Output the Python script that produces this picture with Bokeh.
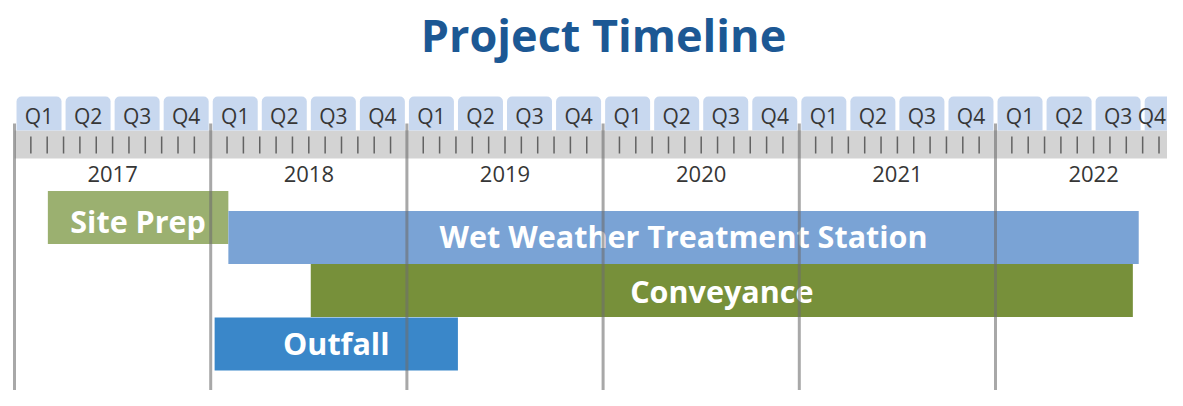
from bokeh.plotting import figure
from bokeh.models import Range1d, ColumnDataSource
from bokeh.core.properties import value
from bokeh.embed import file_html
from bokeh.resources import INLINE

# ---------------- data ----------------
title_text = "Project Timeline"
years = [2017, 2018, 2019, 2020, 2021, 2022]
quarters = ["Q1", "Q2", "Q3", "Q4"]
tasks = ["Site Prep", "Wet Weather Treatment Station", "Conveyance", "Outfall"]
task_start = [2017.17, 2018.09, 2018.51, 2018.02]   # decimal years
task_end = [2018.09, 2022.73, 2022.70, 2019.26]

# ---------------- style / layout ----------------
task_colors = ["#9bb070", "#7aa3d5", "#77903a", "#3a87c9"]
row_y = [217, 237, 290, 343.5]          # bar centre (px from top)
label_y = [220, 235.5, 290.5, 342]       # text anchor (px from top)
bar_h = 53
FONT = value("Open Sans")
TXT = "#363636"

W, H = 1167, 390
px_per_year = 196.2
x0 = 2017 - 14 / px_per_year
x1 = x0 + W / px_per_year

p = figure(width=W, height=H, output_backend="svg", toolbar_location=None,
           x_range=Range1d(x0, x1), y_range=Range1d(H, 0),
           min_border=0, outline_line_color=None, background_fill_color="white")
p.axis.visible = False
p.grid.visible = False

# title
p.text(x=[x0 + 603 / px_per_year], y=[34], text=[title_text],
       text_font=FONT, text_font_style="bold", text_font_size="45px",
       text_color="#1c5894", text_align="center", text_baseline="alphabetic")

# grey month strip
p.quad(left=[years[0]], right=[x1], top=[130], bottom=[158],
       fill_color="#d3d3d3", line_color=None)

# quarter tabs
q_x, q_t = [], []
for y in years:
    for i, q in enumerate(quarters):
        q_x.append(y + (i + 0.5) / 4)
        q_t.append(q)
half = 22.5 / px_per_year
tabs = ColumnDataSource(dict(x=q_x, t=q_t,
                             l=[v - half for v in q_x], r=[v + half for v in q_x]))
p.quad(left="l", right="r", top=96, bottom=130, source=tabs,
       fill_color="#c8d8ef", line_color=None, border_radius=(5, 5, 0, 0))
# labels: all but the last centred on their tab; last one kept inside the frame
p.text(x=q_x[:-1], y=[115] * (len(q_x) - 1), text=q_t[:-1], text_font=FONT,
       text_font_size="21px", text_color=TXT, text_align="center",
       text_baseline="alphabetic")
p.text(x=[x1 - 1.5 / px_per_year], y=[115], text=[q_t[-1]], text_font=FONT,
       text_font_size="21px", text_color=TXT, text_align="right",
       text_baseline="alphabetic")

# month ticks
mx = [y + m / 12 for y in years for m in range(1, 12)]
p.segment(x0=mx, x1=mx, y0=[136] * len(mx), y1=[153] * len(mx),
          line_color="#626262", line_width=1.5)

# year labels
p.text(x=[y + 0.5 for y in years], y=[173] * len(years), text=[str(y) for y in years],
       text_font=FONT, text_font_size="22px", text_color=TXT,
       text_align="center", text_baseline="alphabetic")

# task bars
src = ColumnDataSource(dict(task=tasks, start=task_start, end=task_end,
                            color=task_colors, y=row_y, ly=label_y,
                            mid=[(a + b) / 2 for a, b in zip(task_start, task_end)]))
p.hbar(y="y", left="start", right="end", height=bar_h, source=src,
       fill_color="color", line_color=None)
p.text(x="mid", y="ly", text="task", source=src, text_font=FONT,
       text_font_style="bold", text_font_size="30.5px", text_color="white",
       text_align="center", text_baseline="alphabetic")

# year boundary lines (on top)
p.segment(x0=years, x1=years, y0=[123] * len(years), y1=[H] * len(years),
          line_color="#6e6e6e", line_alpha=0.6, line_width=3)

open("out.html", "w").write(file_html(p, INLINE))
